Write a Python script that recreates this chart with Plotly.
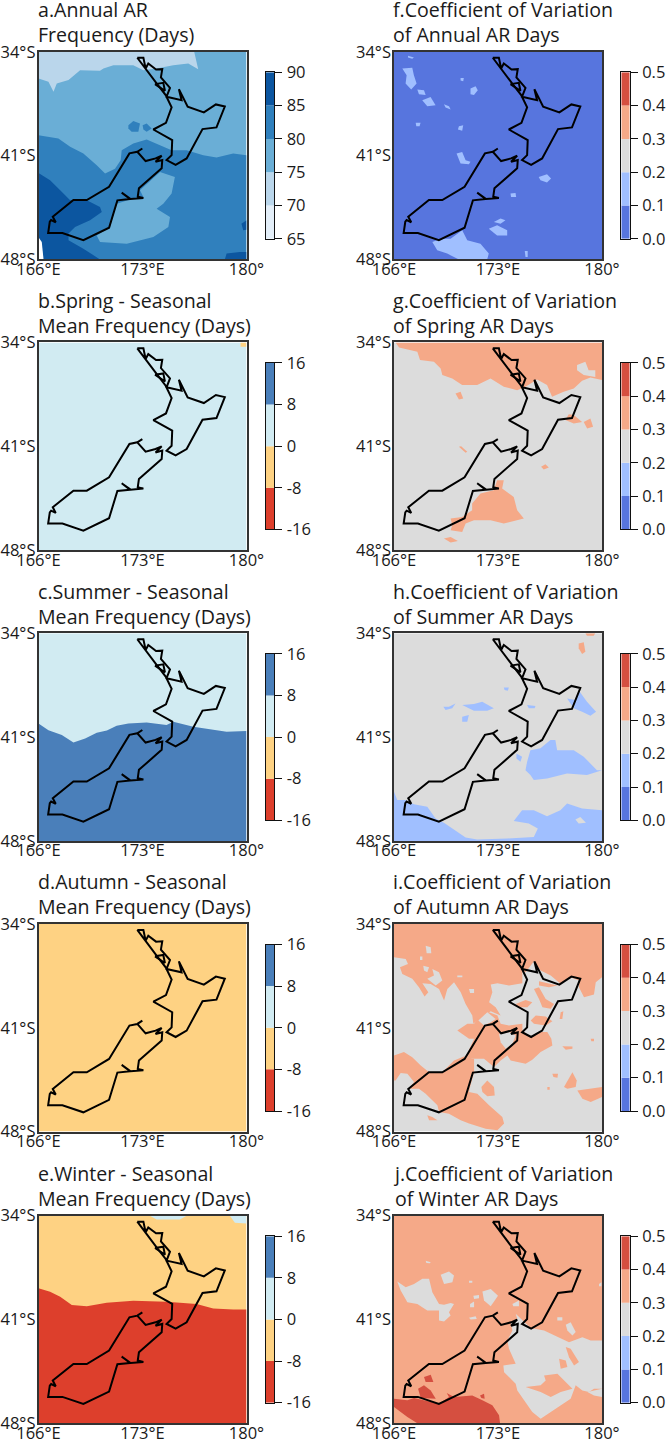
import plotly.graph_objects as go

FONT = "Open Sans"
W, H = 668, 1441

# ---------- colour levels ----------
LEVELS_ANNUAL = [65, 70, 75, 80, 85, 90]
COLORS_ANNUAL = ["#e3eef8", "#bad6eb", "#6aaed6", "#3080bd", "#0c56a0"]
LEVELS_DIFF = [-16, -8, 0, 8, 16]
COLORS_DIFF = ["#dd3f2c", "#fed283", "#d1ebf2", "#4a7fba"]
LEVELS_CV = [0.0, 0.1, 0.2, 0.3, 0.4, 0.5]
COLORS_CV = ["#5775de", "#a0bfff", "#dcdcdc", "#f5a988", "#d54f40"]

LON_TICKS = [166, 173, 180]
LON_LABELS = ["166°E", "173°E", "180°"]
LAT_TICKS = [-34, -41, -48]
LAT_LABELS = ["34°S", "41°S", "48°S"]

# ---------- coastline (lon, lat) ----------
NORTH_ISLAND = [(172.65,-34.40),(173.06,-34.40),(173.21,-35.12),(173.39,-34.79),(173.91,-35.19),(174.33,-35.17),
    (174.24,-35.73),(174.85,-36.43),(174.62,-37.03),(175.63,-37.26),(175.45,-36.52),(176.04,-37.71),(177.13,-38.09),
    (177.94,-37.55),(178.54,-37.69),(177.98,-39.10),(177.04,-39.21),(175.97,-41.19),(175.23,-41.62),(174.62,-41.30),
    (174.96,-40.97),(175.00,-39.95),(173.73,-39.24),(174.58,-38.79),(174.96,-37.75),(174.56,-36.92),(173.95,-36.13),(172.65,-34.40)]
HARBOUR = [(173.84,-36.18),(174.40,-36.09),(174.51,-36.63),(173.84,-36.18)]
SOUTH_ISLAND = [(172.99,-40.52),(172.65,-40.74),(172.12,-40.85),(170.75,-43.10),(169.25,-44.0),(168.35,-44.0),(166.96,-45.12),
    (167.16,-45.50),(166.85,-45.35),(166.76,-45.46),(166.65,-46.22),(167.61,-46.22),(169.02,-46.70),(170.75,-45.86),
    (171.31,-44.02),(172.16,-43.93),(171.6,-43.5),(172.2,-43.93),(173.06,-43.86),(172.68,-43.77),(172.76,-43.21),
    (174.29,-41.86),(174.33,-41.30),(173.88,-41.42),(174.29,-41.01),(173.88,-41.19),(173.21,-41.37),(172.65,-40.74)]

# ---------- a: annual frequency ----------
A_70_75 = [(166,-34),(176.48,-34),(176.75,-35.17),(176.08,-34.79),(175.07,-34.9),(173.95,-35.12),(173.06,-35.24),(172.38,-34.9),
    (171.04,-34.9),(170.37,-35.12),(170.14,-35.28),(168.8,-35.24),(168.02,-35.91),(167.23,-36.13),(167.01,-36.70),(166.67,-36.02),(166,-35.8)]
A_80_85 = [(166,-39.63),(167.34,-39.85),(168.13,-40.41),(169.02,-40.86),(169.92,-41.65),(170.48,-42.21),(171.15,-41.88),(171.53,-41.31),
    (171.6,-40.64),(172.38,-40.19),(173.28,-39.92),(174.18,-40.3),(174.96,-40.64),(175.97,-40.64),(177.09,-40.98),(177.98,-41.13),
    (179.1,-40.86),(180,-40.98),(180,-48),(166,-48)]
A_80_ISLE1 = [(172.05,-38.95),(172.38,-38.66),(172.83,-38.84),(172.72,-39.4),(172.27,-39.4),(172.05,-39.18)]
A_80_ISLE2 = [(173.01,-38.95),(173.28,-38.84),(173.62,-39.18),(173.28,-39.4),(173.06,-39.24)]
A_75_HOLE = [(174.18,-42.1),(175.18,-42.44),(174.96,-43.56),(174.4,-44.24),(173.95,-44.58),(174.85,-45.14),(174.74,-45.81),(173.73,-46.49),
    (171.94,-46.94),(170.14,-46.83),(169.92,-46.38),(170.82,-45.81),(171.26,-44.24),(172.38,-43.9),(173.06,-43.79),(172.83,-43.34)]
A_85_WEST = [(166,-42.17),(166.78,-42.66),(167.46,-43.34),(168.13,-44.01),(169.25,-44.01),(170.14,-44.46),(170.26,-44.8),(169.47,-45.36),
    (168.46,-45.81),(168.02,-46.26),(168.02,-46.71),(169.02,-47.28),(170.14,-48),(166,-48)]
A_85_SE = [(178.54,-48),(178.66,-47.61),(179.55,-47.5),(180,-47.5),(180,-48)]
A_85_E = [(179.66,-45.59),(180,-45.36),(180,-46.0),(179.78,-46.04)]
A_OVER = [(166,-46.5),(166.22,-46.83),(166.34,-48),(166,-48)]

# ---------- b, c, e: seasonal difference ----------
B_NEG = [(179.6,-34),(180,-34),(180,-34.3),(179.6,-34.3)]
C_HIGH = [(166,-40.08),(166.67,-40.53),(167.57,-40.86),(168.35,-41.36),(169.14,-41.09),(169.92,-40.71),(170.6,-40.55),(171.26,-40.23),
    (172.05,-40.08),(173.28,-40.01),(174.62,-40.19),(175.07,-39.96),(176.42,-40.3),(177.54,-40.46),(178.66,-40.64),(180,-40.59),(180,-48),(166,-48)]
E_LOW = [(166,-38.9),(166.78,-39.13),(167.46,-39.47),(168.24,-40.03),(169.25,-40.1),(170.59,-39.87),(172.38,-39.74),(174.62,-39.8),
    (176.64,-39.96),(177.76,-40.26),(179.1,-40.32),(180,-40.32),(180,-48),(166,-48)]
E_POS1 = [(173.5,-34),(173.95,-34.25),(175.52,-34.25),(175.97,-34)]
E_POS2 = [(178.88,-34),(179.22,-34.47),(180,-34.52),(180,-34)]

# ---------- f: CV annual ----------
F_PATCHES = [
    [(166.56,-35.12),(167.23,-35.08),(167.34,-35.58),(167.52,-36.14),(167.16,-36.54),(166.78,-36.14),(166.85,-35.58)],
    [(167.57,-36.54),(168.02,-36.59),(168.13,-36.92),(167.68,-36.86)],
    [(167.9,-37.26),(168.46,-37.04),(168.8,-37.6),(168.24,-37.67)],
    [(171.15,-36.48),(171.49,-36.32),(171.64,-36.59),(171.38,-36.92),(171.15,-36.86)],
    [(170.21,-40.86),(170.59,-40.75),(170.82,-41.31),(171.15,-41.42),(171.04,-41.58),(170.48,-41.54)],
    [(175.74,-42.44),(176.3,-42.26),(176.57,-42.55),(176.3,-42.82),(175.86,-42.66)],
    [(172.38,-45.93),(172.94,-45.7),(173.62,-46.04),(173.62,-46.38),(172.94,-46.38)],
    [(172.72,-45.48),(173.17,-45.25),(173.5,-45.36),(173.17,-45.59)],
    [(168.58,-46.83),(169.14,-46.6),(169.81,-46.6),(170.59,-46.04),(170.93,-46.71),(171.82,-46.94),(172.38,-47.61),(172.27,-48),(170.37,-48),(169.58,-47.61),(168.91,-47.39)],
    [(173.84,-43.56),(174.18,-43.52),(174.22,-43.79),(173.88,-43.79)],
    [(167.46,-38.79),(167.79,-38.79),(167.72,-39.02),(167.5,-39.02)],
    [(170.37,-39.02),(170.66,-38.95),(170.59,-39.33),(170.3,-39.24)],
    [(169.36,-37.53),(169.7,-37.67),(169.81,-37.89),(169.47,-37.76)],
    [(170.48,-35.76),(170.7,-35.76),(170.66,-35.98),(170.48,-35.94)],
    [(166.94,-34.27),(167.34,-34.38),(167.23,-34.47),(166.94,-34.38)],
    [(174.8,-47.43),(175,-47.43),(175,-47.84),(174.85,-47.84)],
]

# ---------- g: CV spring ----------
G_NORTH = [(166.11,-34),(166.34,-34.34),(167.57,-34.63),(167.75,-35.19),(168.69,-35.31),(169.14,-35.76),(169.25,-36.2),(169.92,-36.43),
    (170.59,-36.88),(171.6,-36.88),(172.5,-36.43),(173.39,-36.99),(174.29,-37.22),(174.85,-36.99),(175.63,-36.5),(176.3,-36.88),(176.64,-37.67),
    (177.42,-37.33),(178.1,-37.11),(178.66,-36.59),(179.22,-36.36),(180,-36.54),(180,-34)]
G_GAP = [(178.32,-35.53),(178.88,-35.31),(179.1,-35.87),(179.55,-35.87),(179.55,-36.34),(178.77,-36.2),(178.32,-35.87)]
G_PATCHES = [
    [(170.14,-37.44),(170.48,-37.33),(170.66,-37.78),(170.37,-37.85)],
    [(177.54,-39.24),(177.76,-38.84),(178.1,-38.9),(178.66,-39.36),(178.1,-39.47)],
    [(178.77,-39.36),(179.22,-39.13),(179.4,-39.69),(179,-39.8)],
    [(175.9,-42.39),(176.19,-42.21),(176.42,-42.44),(176.08,-42.57)],
    [(170.37,-41.04),(170.52,-41),(170.93,-41.38),(170.82,-41.45)],
    [(169.81,-45.88),(170.59,-45.77),(171.26,-45.32),(171.26,-44.87),(171.82,-44.19),(172.72,-43.97),(172.94,-43.29),(173.39,-43.29),(173.28,-43.86),
     (174.06,-44.42),(174.29,-45.32),(174.74,-45.88),(173.39,-46.22),(172.5,-45.99),(171.38,-45.99),(170.82,-46.22),(170.59,-46.78),(169.81,-46.67),(169.92,-46.33)],
    [(169.36,-47.23),(169.81,-47.12),(170.3,-47.39),(169.81,-47.5)],
]

# ---------- h: CV summer ----------
H_SOUTH = [(166,-44.69),(166.22,-45.25),(166.78,-45.25),(167.34,-45.52),(168.24,-45.7),(168.8,-46.49),(169.36,-46.78),(169.92,-47.16),(170.82,-47.77),
    (171.6,-47.9),(173.62,-47.84),(175.41,-47.73),(175.68,-47.16),(175.07,-46.83),(174.06,-46.65),(174.62,-45.93),(175.41,-45.93),(176.3,-46.33),
    (177.2,-45.93),(177.65,-45.48),(178.66,-45.81),(180,-45.93),(180,-48),(166,-48)]
H_GAP = [(178.21,-46.56),(178.54,-46.38),(178.92,-46.78),(178.43,-46.83)]
H_PATCHES = [
    [(174.96,-42.66),(175.18,-41.88),(175.86,-41.76),(176.53,-41.2),(176.86,-41.2),(176.98,-41.88),(178.1,-41.88),(178.77,-42.33),(179.66,-43.23),(180,-43.23),
     (178.99,-43.56),(177.65,-43.45),(176.3,-43.79),(175.41,-43.9),(175.18,-43.56),(174.85,-43.23)],
    [(174.24,-42.1),(174.62,-42.33),(174.51,-42.66),(174.24,-42.44)],
    [(177.65,-38.39),(178.21,-38.5),(178.5,-37.94),(178.99,-38.61),(179.6,-39.29),(179.22,-39.56),(178.66,-39.29),(178.1,-39.06)],
    [(170.59,-38.84),(171.38,-38.77),(171.94,-38.61),(172.72,-39.06),(172.27,-39.22),(171.38,-39.22)],
    [(169.32,-38.95),(169.7,-38.95),(170.14,-38.73),(169.92,-39.06),(169.47,-39.18)],
    [(170.59,-39.63),(171.04,-39.51),(170.93,-39.96),(170.59,-39.96)],
    [(173.39,-37.65),(173.73,-37.65),(173.66,-37.87),(173.44,-37.83)],
    [(174.96,-38.84),(175.52,-38.91),(175.47,-39.06),(175.07,-39.06)],
]
H_HIGH = [
    [(178.43,-34.68),(178.77,-34.61),(178.88,-35.24),(178.66,-35.4),(178.43,-35.01)],
    [(178.88,-34),(179.55,-34),(179.44,-34.16),(178.99,-34.16)],
]

# ---------- i: CV autumn ----------
I_MAIN = [(166,-34),(180,-34),(180,-37.59),(179.58,-37.93),(179.46,-38.76),(178.79,-38.94),(178.45,-38.26),(178.45,-37.81),(177.89,-37.59),(177.22,-38.04),
    (176.55,-37.48),(175.87,-37.14),(175.42,-36.51),(174.86,-37.25),(174.64,-37.14),(174.64,-37.99),(173.74,-38.15),(172.96,-37.99),(172.51,-38.08),(172.62,-38.6),
    (172.4,-39.27),(172.84,-39.61),(173.18,-40.17),(172.51,-39.88),(171.72,-40.4),(171.34,-40.73),(171.27,-40.17),(170.82,-39.39),(170.49,-38.6),(170.04,-37.93),
    (169.59,-38.38),(169.37,-39.16),(169.03,-38.38),(168.47,-38.04),(167.91,-37.99),(168.31,-38.6),(168.06,-38.89),(167.68,-38.26),(167.23,-37.7),(166.56,-37.37),
    (166.4,-36.92),(166.94,-36.69),(166.79,-36.36),(166,-36.24)]
I_MID = [(170.26,-41.18),(170.94,-40.73),(171.39,-40.73),(171.72,-40.28),(172.4,-39.95),(172.96,-40.17),(173.18,-40.73),(173.74,-40.84),(174.64,-40.73),(174.64,-41.18),
    (175.2,-41.63),(175.87,-41.29),(176.32,-41.29),(176.59,-41.74),(176.66,-42.19),(175.87,-42.64),(175.31,-43.16),(174.86,-43.42),(173.85,-43.2),(173.63,-42.86),
    (173.18,-43.2),(172.73,-43.65),(172.06,-43.09),(171.39,-43.09),(170.82,-42.98),(171.39,-41.74),(171.05,-41.74),(170.38,-41.29)]
I_SOUTH = [(166,-42.86),(166.67,-42.64),(167.23,-42.98),(167.8,-43.54),(168.36,-43.99),(169.25,-43.99),(170.04,-43.2),(170.71,-42.93),(171.39,-43.09),(171.39,-43.99),
    (171.12,-45.0),(171.05,-45.33),(171.61,-45.44),(172.4,-46.23),(173.29,-47.02),(173.41,-47.46),(172.96,-47.91),(172.17,-47.8),(171.05,-47.46),(170.49,-47.24),
    (169.7,-46.79),(169.03,-46.68),(168.92,-46.23),(168.13,-45.44),(167.68,-45.11),(167.01,-45.11),(167.35,-44.66),(166.9,-44.1),(166.45,-44.05),(166.11,-44.55),(166,-44.55)]
I_PATCHES = [
    [(171.88,-45),(172.28,-44.55),(172.73,-45),(172.78,-45.56),(172.28,-45.62),(171.95,-45.33)],
    [(177.44,-45),(178.01,-43.99),(178.3,-44.55),(178.23,-45),(177.67,-45.11)],
    [(178.34,-45.22),(179.24,-45.11),(180,-45),(180,-45.67),(179.24,-46.01),(178.68,-45.78)],
    [(177.33,-42.24),(178.01,-42.26),(178.01,-42.42),(177.56,-42.48)],
    [(176.66,-44.1),(177.04,-44.1),(177,-44.37),(176.73,-44.32)],
    [(176.32,-45),(176.48,-45),(176.48,-45.18),(176.32,-45.18)],
    [(179.24,-41.74),(179.46,-41.74),(179.46,-41.9),(179.28,-41.9)],
    [(168.24,-46.9),(168.58,-47.02),(168.92,-47.24),(168.36,-47.24)],
    [(175.76,-37.86),(177,-38.15),(176.43,-38.26),(175.76,-38.15)],
    [(175.42,-38.38),(175.76,-38.26),(176.21,-39.05),(176.77,-39.39),(176.55,-39.72),(175.99,-39.61),(175.76,-39.05)],
    [(174.19,-39.39),(174.86,-39.12),(175.31,-39.27),(174.98,-39.61),(174.41,-39.61)],
    [(175.2,-40.51),(175.54,-40.17),(176.21,-40.24),(176.66,-40.55),(176.21,-40.84),(175.42,-40.73)],
    [(177.22,-39.95),(177.4,-39.88),(177.33,-40.4),(177.15,-40.4)],
]
I_GAPS = [
    [(173.07,-41.41),(173.74,-41.29),(174.19,-41.52),(173.97,-42.08),(173.52,-42.42),(173.18,-41.97)],
    [(171.68,-40.51),(172.28,-39.95),(172.84,-40.4),(172.51,-40.62),(172.06,-40.84)],
    [(168.13,-35.46),(168.47,-35.57),(168.51,-35.97),(168.2,-35.97)],
    [(167.97,-36.81),(168.36,-36.92),(168.24,-37.25),(168.02,-37.14)],
    [(168.58,-37.03),(169.03,-37.25),(169.25,-37.81),(168.81,-38.15),(168.24,-37.7),(168.69,-37.48)],
    [(171.05,-38.38),(171.39,-38.38),(171.39,-38.65),(171.12,-38.65)],
    [(167.75,-36.2),(167.91,-36.2),(167.91,-36.42),(167.75,-36.42)],
    [(170.26,-37.48),(170.6,-37.48),(170.6,-37.59),(170.26,-37.59)],
]

# ---------- j: CV winter ----------
J_GAPS = [
    [(166.22,-38.44),(166.79,-38.82),(167.35,-38.6),(167.91,-38.26),(168.36,-38.26),(168.58,-39.16),(169.03,-39.95),(169.37,-40.01),(169.81,-39.88),(170.04,-39.95),
     (169.7,-40.51),(169.81,-40.73),(169.37,-41.14),(169.03,-41.07),(169.03,-40.4),(168.24,-40.4),(167.57,-39.95),(166.9,-39.83),(166.45,-39.05)],
    [(169.14,-37.99),(169.7,-37.77),(170.04,-38.04),(169.93,-38.49),(169.37,-38.6)],
    [(171.95,-39.12),(172.51,-38.94),(173,-39.39),(172.51,-40.1),(172.06,-39.72)],
    [(171.34,-39.39),(171.72,-39.34),(171.72,-39.57),(171.39,-39.61)],
    [(171.12,-39.95),(171.39,-39.79),(171.39,-40.17),(171.12,-40.17)],
    [(173.97,-39.95),(174.41,-39.72),(174.41,-40.1),(174.03,-40.1)],
    [(171.05,-40.89),(171.5,-40.78),(171.57,-40.96),(171.16,-41)],
    [(168.13,-37.03),(168.47,-37.14),(168.42,-37.21),(168.18,-37.19)],
    [(171.05,-38.38),(171.27,-38.38),(171.27,-38.53),(171.05,-38.53)],
    [(176.99,-40.84),(177.33,-40.84),(177.33,-41.07),(176.99,-41.07)],
    [(179.8,-38.6),(179.96,-38.49),(179.96,-38.76),(179.8,-38.76)],
    [(177.56,-41.36),(177.89,-41.18),(178.23,-41.85),(178.01,-42.08),(177.67,-41.74)],
    [(174.19,-40.62),(174.53,-40.96),(175.2,-41.58),(176.1,-41.74),(177,-42.19),(177.78,-42.53),(178.68,-42.19),(179.24,-42.41),(180,-42.41),(180,-45.67),(179.46,-45.67),
     (179.13,-45.89),(178.68,-45.78),(178.23,-45.44),(177.89,-46.34),(177.22,-46.79),(176.55,-47.24),(175.87,-47.69),(175.31,-47.24),(174.98,-46.79),(174.3,-45.78),
     (174.19,-45.33),(173.74,-44.88),(173.41,-44.55),(173.36,-44.1),(174.19,-43.99),(173.74,-42.98),(173.63,-42.42),(173.97,-41.74),(173.85,-41.18),(174.3,-40.96)],
]
J_HOLES = [
    [(176.1,-44.77),(177,-44.66),(178.01,-45.67),(177.22,-45.89),(176.55,-46.23),(175.87,-45.89),(174.86,-45.56),(175.87,-45.44),(176.21,-45.11)],
    [(177.56,-42.86),(177.89,-42.98),(178.45,-43.87),(178.12,-44.1),(177.78,-43.54)],
    [(177.11,-43.65),(177.56,-43.76),(177.67,-44.21),(177.22,-44.32)],
]
J_LAST_GAP = [(179.02,-45.89),(180,-45.67),(180,-46.23),(179.46,-46.12)]
J_HIGH = [
    [(166,-46.34),(166.9,-46.45),(167.35,-46.3),(169.03,-46.68),(169.7,-46.23),(169.55,-45.96),(170.04,-46.23),(171.27,-46.12),(171.95,-46.45),(172.62,-46.79),
     (173.07,-47.46),(173.14,-48),(167.57,-48),(166.9,-47.58),(166,-46.9)],
    [(167.62,-45.67),(168.02,-45.44),(168.47,-45.78),(168.81,-46.34),(167.8,-46.3)],
    [(168.02,-44.88),(168.47,-44.73),(168.65,-45.22),(168.13,-45.22)],
    [(171.79,-46.12),(172.06,-46),(172.1,-46.34),(171.88,-46.3)],
]

# ---------- panels: title lines, scale, background class, layered regions ----------
PANELS = [
    dict(col=0, row=0, title="a.Annual AR<br>Frequency (Days)", scale="annual", base=2,
         layers=[(1, A_70_75), (3, A_80_85), (3, A_80_ISLE1), (3, A_80_ISLE2), (2, A_75_HOLE), (4, A_85_WEST), (4, A_85_SE), (4, A_85_E)],
         over=A_OVER),
    dict(col=0, row=1, title="b.Spring - Seasonal<br>Mean Frequency (Days)", scale="diff", base=2, layers=[(1, B_NEG)]),
    dict(col=0, row=2, title="c.Summer - Seasonal<br>Mean Frequency (Days)", scale="diff", base=2, layers=[(3, C_HIGH)]),
    dict(col=0, row=3, title="d.Autumn - Seasonal<br>Mean Frequency (Days)", scale="diff", base=1, layers=[]),
    dict(col=0, row=4, title="e.Winter - Seasonal<br>Mean Frequency (Days)", scale="diff", base=1,
         layers=[(0, E_LOW), (2, E_POS1), (2, E_POS2)]),
    dict(col=1, row=0, title="f.Coefficient of Variation<br>of Annual AR Days", scale="cv", base=0,
         layers=[(1, p) for p in F_PATCHES]),
    dict(col=1, row=1, title="g.Coefficient of Variation<br>of Spring AR Days", scale="cv", base=2,
         layers=[(3, G_NORTH), (2, G_GAP)] + [(3, p) for p in G_PATCHES]),
    dict(col=1, row=2, title="h.Coefficient of Variation<br>of Summer AR Days", scale="cv", base=2,
         layers=[(1, H_SOUTH), (2, H_GAP)] + [(1, p) for p in H_PATCHES] + [(3, p) for p in H_HIGH]),
    dict(col=1, row=3, title="i.Coefficient of Variation<br>of Autumn AR Days", scale="cv", base=2,
         layers=[(3, I_MAIN), (3, I_MID), (3, I_SOUTH)] + [(3, p) for p in I_PATCHES] + [(2, p) for p in I_GAPS]),
    dict(col=1, row=4, title="j.Coefficient of Variation<br>of Winter AR Days", scale="cv", base=3,
         layers=[(2, p) for p in J_GAPS] + [(3, p) for p in J_HOLES] + [(2, J_LAST_GAP)] + [(4, p) for p in J_HIGH]),
]

SCALES = {
    "annual": (LEVELS_ANNUAL, COLORS_ANNUAL),
    "diff": (LEVELS_DIFF, COLORS_DIFF),
    "cv": (LEVELS_CV, COLORS_CV),
}

# ---------- page geometry ----------
COL_LEFT = [38.5, 394.0]
ROW_TOP = [51.8, 342.4, 633.3, 924.0, 1215.7]
MAP_W, MAP_H = 208.0, 207.6
CB_DX, CB_W = 227.3, 8.4
CB_DY, CB_H = 20.5, 166.5
TITLE_DY = -29.5
FS_TITLE, FS_TICK = 19.6, 16.5
AX_COLOR = "#333333"

fig = go.Figure()
layout = dict(width=W, height=H, autosize=False, margin=dict(l=0, r=0, t=0, b=0, pad=0),
              paper_bgcolor="white", plot_bgcolor="white", showlegend=False, template="none",
              font=dict(family=FONT, color="#1a1a1a"), annotations=[])


def xdom(x0, w):
    return [x0 / W, (x0 + w) / W]


def ydom(y0, h):
    return [1 - (y0 + h) / H, 1 - y0 / H]


def add_poly(poly, color, xa, ya):
    fig.add_trace(go.Scatter(x=[p[0] for p in poly] + [poly[0][0]], y=[p[1] for p in poly] + [poly[0][1]],
                             mode="lines", fill="toself", fillcolor=color, line=dict(width=0, color=color),
                             hoverinfo="skip", xaxis=xa, yaxis=ya))


FULL_BOX = [(166, -34), (180, -34), (180, -48), (166, -48)]

for i, p in enumerate(PANELS):
    levels, colors = SCALES[p["scale"]]
    n_map, n_cb = 2 * i + 1, 2 * i + 2
    xm, ym = f"x{n_map}", f"y{n_map}"
    xc, yc = f"x{n_cb}", f"y{n_cb}"
    left, top = COL_LEFT[p["col"]], ROW_TOP[p["row"]]

    add_poly(FULL_BOX, colors[p["base"]], xm, ym)
    for cls, poly in p["layers"]:
        add_poly(poly, colors[cls], xm, ym)
    if "over" in p:
        add_poly(p["over"], "#ffffff", xm, ym)

    for island in (NORTH_ISLAND, HARBOUR, SOUTH_ISLAND):
        fig.add_trace(go.Scatter(x=[q[0] for q in island], y=[q[1] for q in island], mode="lines",
                                 line=dict(color="#000000", width=2), hoverinfo="skip", xaxis=xm, yaxis=ym))

    layout[f"xaxis{n_map}"] = dict(domain=xdom(left, MAP_W), range=[166, 180], anchor=ym, tickvals=LON_TICKS, ticktext=LON_LABELS,
                                   automargin=False, ticks="", ticklabelstandoff=-6, showgrid=False, zeroline=False, showline=True, mirror=True,
                                   linecolor=AX_COLOR, linewidth=1.5, tickfont=dict(size=FS_TICK, family=FONT, color="#1a1a1a"))
    layout[f"yaxis{n_map}"] = dict(domain=ydom(top, MAP_H), range=[-48, -34], anchor=xm, tickvals=LAT_TICKS, ticktext=LAT_LABELS,
                                   automargin=False, ticks="", ticklabelstandoff=-2, showgrid=False, zeroline=False, showline=True, mirror=True,
                                   linecolor=AX_COLOR, linewidth=1.5, tickfont=dict(size=FS_TICK, family=FONT, color="#1a1a1a"))

    # colour bar
    fig.add_trace(go.Bar(x=[0] * len(colors), y=[levels[k + 1] - levels[k] for k in range(len(colors))], base=levels[:-1],
                         width=1, marker=dict(color=colors, line=dict(width=0)), hoverinfo="skip", xaxis=xc, yaxis=yc))
    layout[f"xaxis{n_cb}"] = dict(domain=xdom(left + CB_DX, CB_W), range=[-0.5, 0.5], anchor=yc, showticklabels=False, ticks="",
                                  automargin=False, showgrid=False, zeroline=False, showline=True, mirror=True, linecolor="#111111", linewidth=1.3)
    layout[f"yaxis{n_cb}"] = dict(domain=ydom(top + CB_DY, CB_H), range=[levels[0], levels[-1]], anchor=xc, side="right",
                                  tickvals=levels, ticktext=[f"{v:.1f}" if p["scale"] == "cv" else str(v) for v in levels],
                                  automargin=False, ticks="outside", ticklen=7, tickwidth=1.3, tickcolor="#111111", ticklabelstandoff=1,
                                  showgrid=False, zeroline=False, showline=True, mirror=True, linecolor="#111111", linewidth=1.3,
                                  tickfont=dict(size=FS_TICK, family=FONT, color="#1a1a1a"))

    layout["annotations"].append(dict(text=p["title"], xref="paper", yref="paper", x=left / W, y=1 - (top + TITLE_DY) / H,
                                      xanchor="left", yanchor="middle", align="left", showarrow=False, xshift=-3,
                                      font=dict(size=FS_TITLE, family=FONT, color="#1a1a1a")))

fig.update_layout(**layout)
fig.write_html("out.html", post_script="document.body.style.margin='0';", config=dict(displayModeBar=False))
